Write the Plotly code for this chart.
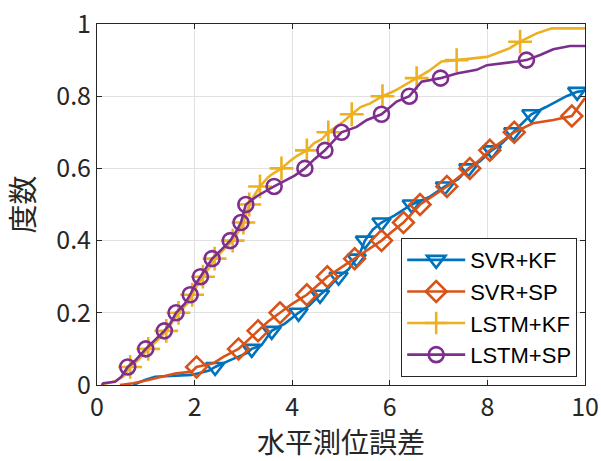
import plotly.graph_objects as go

# ---- data ----
names = ["SVR+KF", "SVR+SP", "LSTM+KF", "LSTM+SP"]

svr_kf_x = [0.74, 0.98, 1.19, 1.94, 2.3, 2.42, 2.73, 3.07, 3.17, 3.37, 3.58, 3.85, 4.13, 4.35, 4.57, 4.75, 4.95,
            5.15, 5.32, 5.4, 5.49, 5.65, 5.83, 6.1, 6.45, 6.8, 7.13, 7.4, 7.61, 7.85, 8.09, 8.3, 8.53, 8.75, 8.9,
            9.2, 9.62, 9.84, 10]
svr_kf_y = [0, 0.014, 0.023, 0.028, 0.04, 0.05, 0.069, 0.088, 0.1, 0.11, 0.15, 0.17, 0.2, 0.22, 0.25, 0.27, 0.3,
            0.32, 0.35, 0.37, 0.4, 0.43, 0.45, 0.47, 0.5, 0.52, 0.55, 0.57, 0.6, 0.62, 0.65, 0.67, 0.7, 0.73, 0.75,
            0.77, 0.8, 0.812, 0.815]
svr_kf_mx = [2.42, 3.17, 3.58, 4.13, 4.57, 4.95, 5.32, 5.49, 5.83, 6.45, 7.13, 7.61, 8.09, 8.53, 8.9, 9.84]
svr_kf_my = [0.05, 0.1, 0.15, 0.2, 0.25, 0.3, 0.35, 0.4, 0.45, 0.5, 0.55, 0.6, 0.65, 0.7, 0.75, 0.812]

svr_sp_x = [0.47, 0.74, 1.05, 1.33, 1.6, 1.94, 2.04, 2.38, 2.59, 2.9, 3.1, 3.3, 3.5, 3.75, 4.0, 4.3, 4.5, 4.72,
            5.0, 5.28, 5.55, 5.83, 6.05, 6.28, 6.45, 6.62, 6.9, 7.17, 7.4, 7.64, 7.85, 8.05, 8.3, 8.55, 8.93, 9.35,
            9.73, 10]
svr_sp_y = [0, 0.005, 0.014, 0.023, 0.032, 0.037, 0.05, 0.06, 0.078, 0.1, 0.125, 0.15, 0.175, 0.2, 0.225, 0.25,
            0.275, 0.3, 0.325, 0.35, 0.375, 0.4, 0.425, 0.45, 0.475, 0.5, 0.525, 0.55, 0.575, 0.6, 0.625, 0.65,
            0.675, 0.7, 0.725, 0.734, 0.745, 0.795]
svr_sp_mx = [2.04, 2.9, 3.3, 3.75, 4.3, 4.72, 5.28, 5.83, 6.28, 6.62, 7.17, 7.64, 8.05, 8.55, 9.73]
svr_sp_my = [0.05, 0.1, 0.15, 0.2, 0.25, 0.3, 0.35, 0.4, 0.45, 0.5, 0.55, 0.6, 0.65, 0.7, 0.745]

lstm_kf_x = [0.08, 0.2, 0.4, 0.55, 0.68, 0.85, 1.05, 1.25, 1.42, 1.55, 1.67, 1.85, 1.95, 2.05, 2.17, 2.3, 2.41,
             2.6, 2.78, 2.9, 3.0, 3.12, 3.2, 3.34, 3.5, 3.6, 3.78, 3.95, 4.1, 4.3, 4.45, 4.6, 4.74, 4.9, 5.05,
             5.22, 5.4, 5.6, 5.85, 6.1, 6.3, 6.55, 6.8, 7.06, 7.37, 7.99, 8.19, 8.46, 8.67, 9.01, 9.32, 10]
lstm_kf_y = [0, 0.005, 0.012, 0.025, 0.05, 0.07, 0.1, 0.125, 0.15, 0.175, 0.2, 0.225, 0.25, 0.275, 0.3, 0.325,
             0.35, 0.375, 0.4, 0.425, 0.45, 0.5, 0.52, 0.55, 0.575, 0.585, 0.6, 0.62, 0.635, 0.65, 0.67, 0.68, 0.7,
             0.715, 0.73, 0.75, 0.77, 0.78, 0.8, 0.815, 0.83, 0.85, 0.87, 0.896, 0.9, 0.909, 0.919, 0.933, 0.951,
             0.974, 0.988, 0.988]
lstm_kf_mx = [0.68, 1.05, 1.42, 1.67, 1.95, 2.17, 2.41, 2.78, 3.0, 3.12, 3.34, 3.78, 4.3, 4.74, 5.22, 5.85, 6.55,
              7.37, 8.67]
lstm_kf_my = [0.05, 0.1, 0.15, 0.2, 0.25, 0.3, 0.35, 0.4, 0.45, 0.5, 0.55, 0.6, 0.65, 0.7, 0.75, 0.8, 0.85,
              0.9, 0.951]

lstm_sp_x = [0.1, 0.13, 0.37, 0.5, 0.63, 0.8, 1.0, 1.2, 1.38, 1.5, 1.62, 1.8, 1.91, 2.0, 2.12, 2.25, 2.36, 2.55,
             2.73, 2.85, 2.95, 3.05, 3.3, 3.63, 3.89, 4.05, 4.26, 4.45, 4.67, 4.85, 5.01, 5.32, 5.53, 5.83, 6.14,
             6.4, 6.65, 7.04, 7.37, 7.78, 7.99, 8.6, 8.8, 9.08, 9.35, 9.69, 10]
lstm_sp_y = [0, 0.005, 0.009, 0.023, 0.05, 0.07, 0.1, 0.125, 0.15, 0.17, 0.2, 0.225, 0.25, 0.275, 0.3, 0.325,
             0.35, 0.375, 0.4, 0.425, 0.45, 0.5, 0.525, 0.55, 0.568, 0.58, 0.6, 0.625, 0.65, 0.675, 0.7, 0.715,
             0.734, 0.75, 0.785, 0.8, 0.84, 0.85, 0.863, 0.873, 0.886, 0.896, 0.9, 0.914, 0.93, 0.939, 0.939]
lstm_sp_mx = [0.63, 1.0, 1.38, 1.62, 1.91, 2.12, 2.36, 2.73, 2.95, 3.05, 3.63, 4.26, 4.67, 5.01, 5.83, 6.4, 7.04,
              8.8]
lstm_sp_my = [0.05, 0.1, 0.15, 0.2, 0.25, 0.3, 0.35, 0.4, 0.45, 0.5, 0.55, 0.6, 0.65, 0.7, 0.75, 0.8, 0.85, 0.9]

x_ticks = [0, 2, 4, 6, 8, 10]
y_ticks = [0, 0.2, 0.4, 0.6, 0.8, 1]
y_tick_text = ["0", "0.2", "0.4", "0.6", "0.8", "1"]
x_title = "水平測位誤差"
y_title = "度数"

# ---- styling ----
colors = ["#0072BD", "#D95319", "#EDB120", "#7E2F8E"]
symbols = ["triangle-down-open", "diamond-open", "cross-thin-open", "circle-open"]
msizes = [16, 16, 17, 15]

series = [
    (svr_kf_x, svr_kf_y, svr_kf_mx, svr_kf_my),
    (svr_sp_x, svr_sp_y, svr_sp_mx, svr_sp_my),
    (lstm_kf_x, lstm_kf_y, lstm_kf_mx, lstm_kf_my),
    (lstm_sp_x, lstm_sp_y, lstm_sp_mx, lstm_sp_my),
]

fig = go.Figure()
for i, (lx, ly, mx, my) in enumerate(series):
    fig.add_trace(go.Scatter(x=lx, y=ly, mode="lines", line=dict(color=colors[i], width=2.6),
                             showlegend=False, hoverinfo="skip"))
    fig.add_trace(go.Scatter(x=mx, y=my, mode="markers",
                             marker=dict(symbol=symbols[i], size=msizes[i], color=colors[i],
                                         line=dict(color=colors[i], width=2.6)),
                             showlegend=False))
for i in range(4):
    fig.add_trace(go.Scatter(x=[None], y=[None], mode="lines+markers", name=names[i],
                             line=dict(color=colors[i], width=2.6),
                             marker=dict(symbol=symbols[i], size=msizes[i], color=colors[i],
                                         line=dict(color=colors[i], width=2.6))))

font_family = "Noto Sans CJK JP"
axis_common = dict(
    showgrid=True, gridcolor="#E1E1E1", gridwidth=1,
    showline=True, linecolor="#262626", linewidth=1, mirror="ticks",
    ticks="inside", ticklen=5, tickcolor="#262626",
    tickfont=dict(family=font_family, size=25, color="#262626"),
    zeroline=False, automargin=False,
)
fig.update_xaxes(range=[0, 10], tickvals=x_ticks, ticktext=[str(v) for v in x_ticks],
                 title=dict(text=x_title, font=dict(family=font_family, size=28, color="#262626")),
                 **axis_common)
fig.update_yaxes(range=[0, 1], tickvals=y_ticks, ticktext=y_tick_text,
                 title=dict(text=y_title, font=dict(family=font_family, size=29, color="#262626")),
                 **axis_common)

fig.update_layout(
    width=601, height=461,
    margin=dict(l=97, r=16, t=24, b=76),
    paper_bgcolor="white", plot_bgcolor="white",
    font=dict(family=font_family, color="#262626"),
    legend=dict(x=0.984, y=0.022, xanchor="right", yanchor="bottom",
                bgcolor="white", bordercolor="#262626", borderwidth=1,
                font=dict(family="Liberation Sans", size=22, color="#000000"),
                itemwidth=58, tracegroupgap=0),
)

fig.write_html("out.html")
